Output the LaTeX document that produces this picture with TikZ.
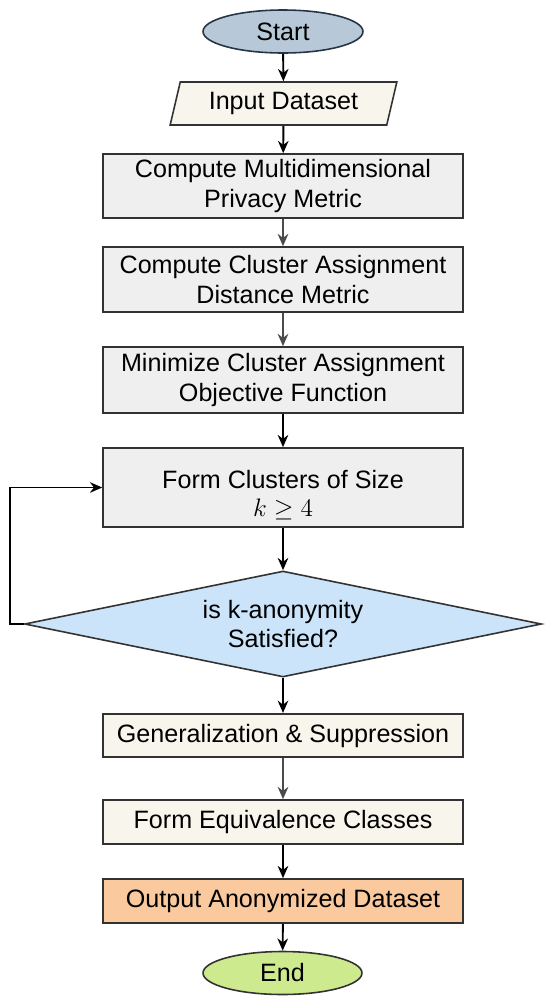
\documentclass[tikz,border=0pt]{standalone}
\usepackage{fontspec}
\setmainfont{Liberation Sans}
\usetikzlibrary{arrows.meta,shapes.geometric,positioning}
\definecolor{clrStart}{RGB}{183,201,216}
\definecolor{clrStartD}{RGB}{38,52,68}
\definecolor{clrEnd}{RGB}{206,234,142}
\definecolor{clrIn}{RGB}{248,246,236}
\definecolor{clrBox}{RGB}{239,239,239}
\definecolor{clrDec}{RGB}{204,228,250}
\definecolor{clrOut}{RGB}{250,201,158}
\definecolor{clrLine}{RGB}{50,50,50}
\definecolor{clrArG}{RGB}{75,75,75}
\tikzset{
  base/.style={draw=clrLine,line width=0.9pt,font=\fontsize{14.3}{17}\selectfont,
    align=center,inner sep=0pt},
  terminal/.style={base,ellipse,minimum height=0.86cm},
  startnode/.style={terminal,draw=clrStartD,fill=clrStart,minimum width=3.2cm},
  endnode/.style={terminal,fill=clrEnd,minimum width=3.18cm},
  io/.style={base,trapezium,trapezium left angle=72,trapezium right angle=108,
    trapezium stretches=true,fill=clrIn,minimum width=4.54cm,minimum height=0.86cm},
  process/.style={base,rectangle,fill=clrBox,minimum width=7.2cm,minimum height=1.3cm},
  procL/.style={process,fill=clrIn,minimum height=0.87cm},
  procOut/.style={procL,fill=clrOut},
  decision/.style={base,diamond,aspect=4.9,fill=clrDec,minimum width=10.34cm,
    minimum height=2.12cm},
  arrow/.style={-{Stealth[length=7pt,width=6pt]},line width=1.1pt,color=black},
  arrowG/.style={arrow,color=clrArG}
}

\begin{document}
\begin{tikzpicture}[x=0.02cm,y=-0.02cm]
  \useasboundingbox (0,0) rectangle (550,1005);
  \node[startnode] (start) at (283,31.5) {Start};
  \node[io] (in) at (283.5,103.5) {Input Dataset};
  \node[process,minimum height=1.28cm] (pm) at (283,186)
    {Compute Multidimensional\\Privacy Metric};
  \node[process] (dm) at (283,279.5)
    {Compute Cluster Assignment\\Distance Metric};
  \node[process,minimum height=1.32cm] (obj) at (283,380)
    {Minimize Cluster Assignment\\Objective Function};
  \node[process,minimum height=1.58cm] (clus) at (283,487.5)
    {\rule{0pt}{19pt}Form Clusters of Size\\[-1pt]$k \geq 4$};
  \node[decision] (dec) at (283,624) {is k-anonymity\\Satisfied?};
  \node[procL] (gen) at (283,735.5) {Generalization \& Suppression};
  \node[procL,minimum height=0.88cm] (eq) at (283,822) {Form Equivalence Classes};
  \node[procOut,minimum height=0.88cm] (out) at (283,901) {Output Anonymized Dataset};
  \node[endnode] (end) at (282.5,973) {End};
  \coordinate (loop) at (10,624);
  \draw[arrow] (start) -- (in);
  \draw[arrow] (in) -- (pm);
  \draw[arrowG] (pm) -- (dm);
  \draw[arrowG] (dm) -- (obj);
  \draw[arrow] (obj) -- (clus);
  \draw[arrow] (clus) -- (dec);
  \draw[arrow] (dec.west) -- (loop) |- (clus.west);
  \draw[arrow] (dec) -- (gen);
  \draw[arrowG] (gen) -- (eq);
  \draw[arrow] (eq) -- (out);
  \draw[arrow] (out) -- (end);
\end{tikzpicture}
\end{document}
